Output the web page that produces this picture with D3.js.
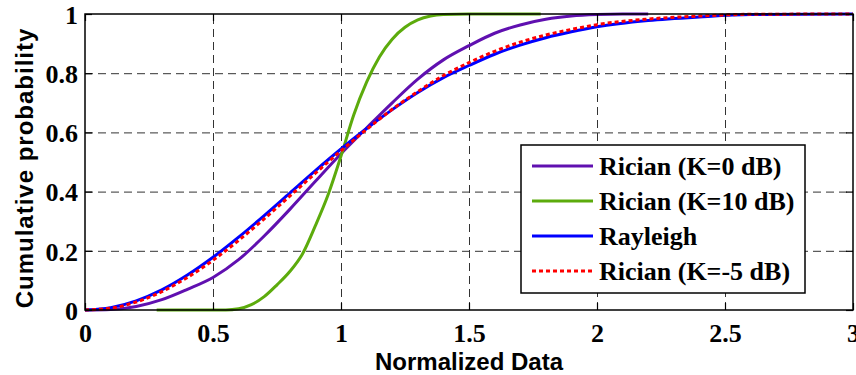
<!DOCTYPE html>
<html lang="en">
<head>
<meta charset="utf-8">
<script src="https://d3js.org/d3.v7.min.js"></script>
<style type="text/css">
  body { margin: 0; background: #fff; }
  svg { display: block; }

  .tick text {
    font-family: "Liberation Serif", "Times New Roman", serif;
    font-weight: bold;
    font-size: 26px;
    fill: #000;
  }
  .axis-label {
    font-family: "Liberation Sans", Arial, sans-serif;
    font-weight: bold;
    font-size: 24px;
  }
  .grid line {
    stroke: #333;
    stroke-width: 1;
    stroke-dasharray: 8,5;
  }
  .grid path { display: none; }
  .legend text {
    font-family: "Liberation Serif", "Times New Roman", serif;
    font-weight: bold;
    font-size: 26px;
  }
</style>
</head>
<body>
<svg width="856" height="375"></svg>
<script>

// x values and CDF values
var xTicks = [0, 0.5, 1, 1.5, 2, 2.5, 3];
var yTicks = [0, 0.2, 0.4, 0.6, 0.8, 1];

var xK0 = [0, 0.1, 0.2, 0.3, 0.4, 0.5, 0.6, 0.7, 0.8, 0.9, 1.0, 1.1, 1.2, 1.3, 1.4, 1.5, 1.6, 1.7, 1.8, 1.9, 2.0, 2.1, 2.2];
var ricianK0 = [0, 0.002, 0.012, 0.035, 0.07, 0.11, 0.17, 0.25, 0.34, 0.435, 0.528, 0.615, 0.70, 0.78, 0.845, 0.893, 0.935, 0.963, 0.982, 0.993, 0.998, 1.0, 1.0];

var xK10 = [0.28, 0.55, 0.6, 0.65, 0.7, 0.75, 0.8, 0.85, 0.9, 0.95, 1.0, 1.05, 1.1, 1.15, 1.2, 1.25, 1.3, 1.35, 1.4, 1.5, 1.78];
var ricianK10 = [0, 0, 0.004, 0.018, 0.045, 0.085, 0.13, 0.19, 0.285, 0.39, 0.52, 0.66, 0.77, 0.855, 0.915, 0.955, 0.98, 0.993, 0.998, 1.0, 1.0];

var xRay = [0, 0.1, 0.2, 0.3, 0.4, 0.5, 0.6, 0.7, 0.8, 0.9, 1.0, 1.1, 1.2, 1.3, 1.4, 1.5, 1.6, 1.7, 1.8, 1.9, 2.0, 2.2, 2.4, 2.6, 3.0];
var rayleigh = [0, 0.008, 0.031, 0.068, 0.118, 0.178, 0.246, 0.319, 0.395, 0.471, 0.544, 0.613, 0.677, 0.735, 0.785, 0.826, 0.864, 0.895, 0.92, 0.94, 0.957, 0.978, 0.99, 0.998, 1.0];
var ricianM5 = [0, 0.006, 0.027, 0.062, 0.11, 0.168, 0.235, 0.308, 0.385, 0.462, 0.538, 0.61, 0.678, 0.738, 0.792, 0.836, 0.874, 0.905, 0.929, 0.948, 0.964, 0.983, 0.993, 0.999, 1.0];

var seriesNames = ["Rician (K=0 dB)", "Rician (K=10 dB)", "Rayleigh", "Rician (K=-5 dB)"];
var seriesColors = ["#6010b0", "#5cab0c", "#0000ff", "#ff0000"];

var series = [
  { name: seriesNames[0], color: seriesColors[0], dash: null, xs: xK0, ys: ricianK0 },
  { name: seriesNames[1], color: seriesColors[1], dash: null, xs: xK10, ys: ricianK10 },
  { name: seriesNames[2], color: seriesColors[2], dash: null, xs: xRay, ys: rayleigh },
  { name: seriesNames[3], color: seriesColors[3], dash: "4,3", xs: xRay, ys: ricianM5 }
];

var svg = d3.select("svg");
var pLeft = 85, pRight = 853, pTop = 14, pBottom = 310;
var w = pRight - pLeft, h = pBottom - pTop;

var x = d3.scaleLinear().domain([0, 3]).range([pLeft, pRight]);
var y = d3.scaleLinear().domain([0, 1]).range([pBottom, pTop]);

// grid
svg.append("g").attr("class", "grid")
  .attr("transform", "translate(0," + pBottom + ")")
  .call(d3.axisBottom(x).tickValues(xTicks.slice(1, -1)).tickSize(-h).tickFormat(""));
svg.append("g").attr("class", "grid")
  .attr("transform", "translate(" + pLeft + ",0)")
  .call(d3.axisLeft(y).tickValues(yTicks.slice(1, -1)).tickSize(-w).tickFormat(""));

// curves
var line = d3.line()
  .x(function(d) { return x(d[0]); })
  .y(function(d) { return y(d[1]); })
  .curve(d3.curveMonotoneX);

svg.append("g").selectAll("path")
  .data(series)
  .enter().append("path")
    .attr("fill", "none")
    .attr("stroke", function(d) { return d.color; })
    .attr("stroke-width", 3)
    .attr("stroke-dasharray", function(d) { return d.dash; })
    .attr("d", function(d) { return line(d.xs.map(function(v, i) { return [v, d.ys[i]]; })); });

// axes with inward ticks
var xAxis = svg.append("g").attr("class", "ax")
  .attr("transform", "translate(0," + pBottom + ")")
  .call(d3.axisBottom(x).tickValues(xTicks).tickSizeInner(-7).tickSizeOuter(0).tickPadding(14).tickFormat(d3.format("")));
var yAxis = svg.append("g").attr("class", "ax")
  .attr("transform", "translate(" + pLeft + ",0)")
  .call(d3.axisLeft(y).tickValues(yTicks).tickSizeInner(-7).tickSizeOuter(0).tickPadding(7).tickFormat(d3.format("")));
svg.append("g").attr("class", "ax")
  .attr("transform", "translate(0," + pTop + ")")
  .call(d3.axisTop(x).tickValues(xTicks).tickSizeInner(-7).tickSizeOuter(0).tickFormat(""));
svg.append("g").attr("class", "ax")
  .attr("transform", "translate(" + pRight + ",0)")
  .call(d3.axisRight(y).tickValues(yTicks).tickSizeInner(-7).tickSizeOuter(0).tickFormat(""));

svg.selectAll(".ax .domain").remove();
svg.selectAll(".ax .tick line").attr("stroke", "#000").attr("stroke-width", 1.2);
yAxis.selectAll("text").attr("dy", "0.36em");

// box
svg.append("rect")
  .attr("x", pLeft).attr("y", pTop).attr("width", w).attr("height", h)
  .attr("fill", "none").attr("stroke", "#000").attr("stroke-width", 1.5);

// axis labels
svg.append("text").attr("class", "axis-label")
  .attr("x", (pLeft + pRight) / 2).attr("y", 370)
  .attr("text-anchor", "middle")
  .text("Normalized Data");
svg.append("text").attr("class", "axis-label")
  .attr("transform", "translate(33,168) rotate(-90)")
  .attr("text-anchor", "middle")
  .style("letter-spacing", "1px")
  .text("Cumulative probability");

// legend
var legend = svg.append("g").attr("class", "legend");
legend.append("rect")
  .attr("x", 521).attr("y", 145).attr("width", 284).attr("height", 148)
  .attr("fill", "#fff").attr("stroke", "#000").attr("stroke-width", 1.5);

var rows = legend.selectAll("g.row")
  .data(series)
  .enter().append("g")
    .attr("class", "row")
    .attr("transform", function(d, i) { return "translate(0," + (166 + i * 35) + ")"; });
rows.append("line")
  .attr("x1", 532).attr("x2", 593)
  .attr("stroke", function(d) { return d.color; })
  .attr("stroke-width", 3)
  .attr("stroke-dasharray", function(d) { return d.dash; });
rows.append("text")
  .attr("x", 599).attr("dy", "0.35em")
  .text(function(d) { return d.name; });

</script>
</body>
</html>
